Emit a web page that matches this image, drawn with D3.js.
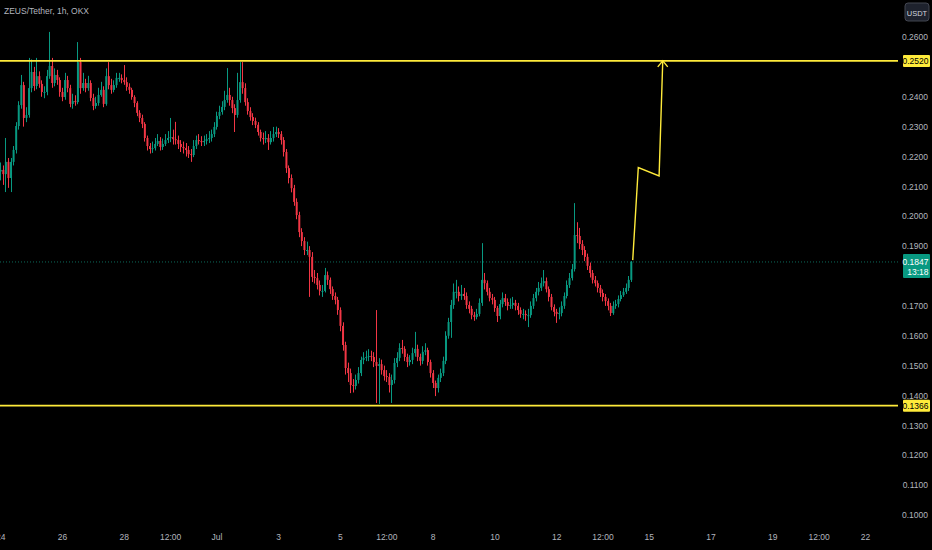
<!DOCTYPE html>
<html><head><meta charset="utf-8">
<script src="https://cdn.jsdelivr.net/npm/d3@7"></script>
<style>
html,body{margin:0;padding:0;background:#000;}
svg{display:block;}
text{font-family:"Liberation Sans Narrow","Liberation Sans",Arial,sans-serif;}
</style></head>
<body>
<script>
// ---------- DATA ----------
const title = "ZEUS/Tether, 1h, OKX";
const startTime = "2024-06-24T00:00:00Z";   // first candle
const candleHours = 2;
const openFirst = 0.2150;
const closes = [
.2155,.2141,.2182,.2128,.2182,.2222,.2302,.2372,.2439,.2329,
.2339,.2429,.2483,.2436,.2469,.2443,.2416,.2416,.2469,.2503,
.2446,.2473,.2456,.2416,.2399,.2456,.2429,.2376,.2386,.2382,
.2516,.2429,.2446,.2429,.2446,.2396,.2369,.2379,.2406,.2423,
.2376,.2469,.2439,.2423,.2439,.2463,.2463,.2456,.2449,.2433,
.2423,.2399,.2379,.2346,.2329,.2309,.2262,.2235,.2225,.2228,
.2242,.2252,.2232,.2242,.2255,.2262,.2265,.2258,.2255,.2242,
.2232,.2228,.2222,.2208,.2205,.2235,.2255,.2252,.2248,.2252,
.2258,.2262,.2275,.2299,.2336,.2349,.2366,.2389,.2406,.2389,
.2362,.2339,.2389,.2449,.2429,.2382,.2352,.2332,.2319,.2306,
.2282,.2262,.2258,.2262,.2248,.2262,.2275,.2282,.2275,.2255,
.2215,.2161,.2128,.2094,.2048,.2004,.1947,.1917,.1887,.1887,
.1864,.1797,.1793,.1770,.1750,.1750,.1803,.1787,.1756,.1733,
.1720,.1686,.1633,.1569,.1492,.1475,.1435,.1432,.1452,.1475,
.1519,.1526,.1529,.1532,.1529,.1512,.1499,.1505,.1485,.1465,
.1462,.1435,.1452,.1509,.1526,.1559,.1556,.1529,.1512,.1519,
.1542,.1556,.1529,.1516,.1546,.1552,.1512,.1475,.1442,.1425,
.1459,.1475,.1516,.1600,.1646,.1703,.1747,.1747,.1733,.1740,
.1733,.1703,.1690,.1669,.1663,.1673,.1710,.1787,.1776,.1747,
.1726,.1720,.1693,.1666,.1706,.1726,.1713,.1700,.1703,.1710,
.1700,.1686,.1673,.1673,.1669,.1669,.1700,.1726,.1747,.1760,
.1776,.1783,.1756,.1730,.1696,.1680,.1673,.1676,.1700,.1733,
.1770,.1793,.1823,.1937,.1934,.1907,.1887,.1864,.1834,.1810,
.1787,.1776,.1760,.1743,.1730,.1716,.1700,.1676,.1700,.1706,
.1723,.1736,.1747,.1760,.1787,.1847];
const highs = [
.2180,.2170,.2262,.2195,.2195,.2235,.2315,.2385,.2473,.2450,
.2365,.2530,.2525,.2500,.2530,.2485,.2455,.2435,.2490,.2617,
.2530,.2495,.2490,.2465,.2430,.2480,.2470,.2440,.2410,.2405,
.2583,.2530,.2480,.2460,.2470,.2455,.2410,.2400,.2430,.2450,
.2435,.2495,.2516,.2460,.2455,.2480,.2480,.2475,.2506,.2465,
.2445,.2430,.2405,.2385,.2355,.2340,.2315,.2270,.2245,.2250,
.2262,.2275,.2265,.2260,.2275,.2285,.2329,.2290,.2316,.2270,
.2255,.2250,.2245,.2235,.2225,.2255,.2270,.2275,.2268,.2270,
.2275,.2285,.2290,.2315,.2350,.2370,.2385,.2420,.2496,.2430,
.2400,.2375,.2480,.2516,.2516,.2445,.2395,.2365,.2345,.2330,
.2315,.2290,.2280,.2285,.2275,.2285,.2299,.2300,.2295,.2285,
.2265,.2225,.2170,.2140,.2105,.2060,.2015,.1960,.1930,.1915,
.1900,.1880,.1820,.1810,.1785,.1770,.1827,.1815,.1795,.1765,
.1745,.1730,.1695,.1645,.1580,.1510,.1490,.1455,.1470,.1495,
.1530,.1545,.1550,.1555,.1550,.1545,.1686,.1525,.1520,.1500,
.1485,.1475,.1470,.1525,.1545,.1575,.1586,.1565,.1540,.1535,
.1560,.1613,.1570,.1540,.1565,.1575,.1560,.1520,.1485,.1450,
.1470,.1490,.1530,.1615,.1660,.1720,.1775,.1787,.1765,.1770,
.1760,.1745,.1715,.1700,.1680,.1690,.1725,.1910,.1810,.1785,
.1760,.1740,.1730,.1700,.1720,.1745,.1740,.1725,.1725,.1730,
.1720,.1710,.1695,.1690,.1685,.1690,.1715,.1740,.1760,.1780,
.1795,.1820,.1795,.1765,.1740,.1705,.1690,.1695,.1715,.1745,
.1785,.1810,.1840,.2044,.1980,.1961,.1920,.1900,.1875,.1845,
.1820,.1800,.1785,.1770,.1755,.1740,.1725,.1710,.1715,.1720,
.1735,.1750,.1760,.1775,.1800,.1850];
const lows = [
.2120,.2105,.2081,.2095,.2081,.2170,.2210,.2290,.2360,.2300,
.2315,.2330,.2415,.2420,.2425,.2430,.2400,.2395,.2405,.2460,
.2430,.2435,.2440,.2400,.2385,.2390,.2415,.2365,.2360,.2370,
.2375,.2410,.2420,.2415,.2420,.2385,.2355,.2360,.2370,.2400,
.2365,.2370,.2425,.2410,.2415,.2430,.2450,.2445,.2440,.2420,
.2410,.2390,.2365,.2335,.2315,.2295,.2250,.2220,.2210,.2212,
.2220,.2235,.2220,.2222,.2235,.2245,.2248,.2240,.2240,.2225,
.2215,.2210,.2200,.2195,.2182,.2198,.2225,.2240,.2235,.2235,
.2240,.2245,.2250,.2265,.2290,.2325,.2340,.2355,.2380,.2370,
.2345,.2282,.2330,.2380,.2410,.2370,.2340,.2320,.2305,.2295,
.2270,.2250,.2240,.2245,.2222,.2240,.2250,.2265,.2262,.2240,
.2200,.2145,.2110,.2080,.2035,.1990,.1930,.1900,.1870,.1870,
.1730,.1780,.1775,.1755,.1735,.1730,.1745,.1770,.1740,.1720,
.1705,.1670,.1615,.1550,.1470,.1445,.1408,.1410,.1420,.1440,
.1465,.1505,.1515,.1515,.1515,.1495,.1375,.1372,.1470,.1450,
.1445,.1410,.1375,.1440,.1495,.1515,.1540,.1515,.1495,.1500,
.1505,.1530,.1515,.1500,.1505,.1535,.1500,.1460,.1425,.1398,
.1410,.1445,.1465,.1505,.1590,.1593,.1690,.1725,.1715,.1720,
.1720,.1690,.1675,.1655,.1650,.1655,.1665,.1700,.1755,.1735,
.1715,.1705,.1680,.1646,.1655,.1695,.1700,.1685,.1690,.1690,
.1685,.1670,.1660,.1655,.1650,.1629,.1660,.1690,.1715,.1735,
.1750,.1765,.1745,.1715,.1685,.1665,.1643,.1655,.1665,.1690,
.1725,.1760,.1785,.1815,.1910,.1890,.1870,.1850,.1820,.1795,
.1775,.1765,.1745,.1730,.1715,.1700,.1685,.1666,.1670,.1690,
.1695,.1715,.1730,.1740,.1750,.1780];

// 0.1800 and 0.2500 sit under the last-price / level badges in the reference
const priceTicks = [0.10,0.11,0.12,0.13,0.14,0.15,0.16,0.17,0.19,0.20,0.21,0.22,0.23,0.24,0.26];
const timeTicks = ["2024-06-24T00:00Z","2024-06-26T00:00Z","2024-06-28T00:00Z","2024-06-29T12:00Z","2024-07-01T00:00Z",
  "2024-07-03T00:00Z","2024-07-05T00:00Z","2024-07-06T12:00Z","2024-07-08T00:00Z","2024-07-10T00:00Z",
  "2024-07-12T00:00Z","2024-07-13T12:00Z","2024-07-15T00:00Z","2024-07-17T00:00Z","2024-07-19T00:00Z",
  "2024-07-20T12:00Z","2024-07-22T00:00Z"];
const timeTickLabels = ["24","26","28","12:00","Jul","3","5","12:00","8","10","12","12:00","15","17","19","12:00","22"];

const levelLines = [0.2520, 0.1366];
const lastPrice = 0.1847;
const countdown = "13:18";
const currency = "USDT";
// projected path drawing (time, price)
const pathTimes = ["2024-07-14T11:30Z","2024-07-14T15:50Z","2024-07-15T08:00Z","2024-07-15T10:50Z"];
const pathPrices = [0.1853, 0.2163, 0.2135, 0.2520];

// ---------- CHART ----------
const W = 932, H = 550, plotRight = 898;
const UP = "#089981", DOWN = "#f23645", YEL = "#ffeb3b", TXT = "#b2b5be";

const x = d3.scaleUtc().domain([new Date("2024-06-26T00:00Z"), new Date("2024-07-22T00:00Z")]).range([62, 865]);
const y = d3.scaleLinear().domain([0.10, 0.26]).range([515, 37]);

const svg = d3.select("body").append("svg").attr("width", W).attr("height", H);
svg.append("rect").attr("width", W).attr("height", H).attr("fill", "#000");

svg.append("defs").append("clipPath").attr("id", "plot")
  .append("rect").attr("x", 0).attr("y", 0).attr("width", plotRight).attr("height", 525);

const t0 = new Date(startTime).getTime();
const candles = closes.map((c, i) => {
  const o = i === 0 ? openFirst : closes[i - 1];
  return { t: new Date(t0 + i * candleHours * 3600e3), o, c,
           h: Math.max(highs[i], o, c), l: Math.min(lows[i], o, c) };
});

const g = svg.append("g").attr("clip-path", "url(#plot)");

// last price dotted line
g.append("line").attr("x1", 0).attr("x2", plotRight)
  .attr("y1", y(lastPrice)).attr("y2", y(lastPrice))
  .attr("stroke", "#0b6b5b").attr("stroke-width", 1).attr("stroke-dasharray", "1,2");

const bw = 2;
const cg = g.append("g");
cg.selectAll("line.wick").data(candles).join("line")
  .attr("class", "wick")
  .attr("x1", d => Math.round(x(d.t)) + 0.5).attr("x2", d => Math.round(x(d.t)) + 0.5)
  .attr("y1", d => y(d.h)).attr("y2", d => y(d.l))
  .attr("stroke", d => d.c >= d.o ? UP : DOWN).attr("stroke-width", 1);
cg.selectAll("rect.body").data(candles).join("rect")
  .attr("class", "body")
  .attr("x", d => x(d.t) - bw / 2 + 0.5).attr("width", bw)
  .attr("y", d => y(Math.max(d.o, d.c)))
  .attr("height", d => Math.max(1, Math.abs(y(d.o) - y(d.c))))
  .attr("fill", d => d.c >= d.o ? UP : DOWN);

// horizontal levels
g.selectAll("line.level").data(levelLines).join("line")
  .attr("class", "level").attr("x1", 0).attr("x2", plotRight)
  .attr("y1", d => y(d)).attr("y2", d => y(d))
  .attr("stroke", YEL).attr("stroke-width", 1.6);

// projection path with arrowhead
const pts = pathTimes.map((t, i) => [x(new Date(t)), y(pathPrices[i])]);
g.append("path").attr("d", d3.line()(pts)).attr("fill", "none")
  .attr("stroke", YEL).attr("stroke-width", 1.4);
const tip = pts[pts.length - 1];
g.append("path").attr("d", d3.line()([[tip[0] - 5, tip[1] + 6], tip, [tip[0] + 5, tip[1] + 6]]))
  .attr("fill", "none").attr("stroke", YEL).attr("stroke-width", 1.4);

// price axis
const yAxis = svg.append("g").attr("transform", "translate(928,0)")
  .call(d3.axisLeft(y).tickValues(priceTicks).tickFormat(d3.format(".4f")).tickSize(0).tickPadding(0));
yAxis.select(".domain").remove();
yAxis.selectAll("text").attr("fill", TXT).attr("font-size", 8.5).attr("text-anchor", "end");

// time axis
const xAxis = svg.append("g").attr("transform", "translate(0,534)")
  .call(d3.axisBottom(x).tickValues(timeTicks.map(s => new Date(s)))
    .tickFormat((d, i) => timeTickLabels[i]).tickSize(0).tickPadding(0));
xAxis.select(".domain").remove();
xAxis.selectAll("text").attr("fill", TXT).attr("font-size", 8.5);

// level labels
levelLines.forEach(v => {
  const lg = svg.append("g").attr("transform", `translate(903,${y(v)})`);
  lg.append("rect").attr("x", 0).attr("y", -6).attr("width", 27).attr("height", 12).attr("rx", 1).attr("fill", YEL);
  lg.append("text").attr("x", 25.5).attr("y", 3).attr("text-anchor", "end")
    .attr("font-size", 8.5).attr("fill", "#000").text(d3.format(".4f")(v));
});

// last price label
const lp = svg.append("g").attr("transform", `translate(903,${y(lastPrice)})`);
lp.append("rect").attr("x", 0).attr("y", -8).attr("width", 27).attr("height", 24).attr("rx", 1).attr("fill", UP);
lp.append("text").attr("x", 25.5).attr("y", 3).attr("text-anchor", "end").attr("font-size", 8.5).attr("fill", "#fff").text(d3.format(".4f")(lastPrice));
lp.append("text").attr("x", 25.5).attr("y", 13).attr("text-anchor", "end").attr("font-size", 8.5).attr("fill", "#fff").text(countdown);

// currency button
const cb = svg.append("g").attr("transform", "translate(905,3)");
cb.append("rect").attr("width", 24).attr("height", 18).attr("rx", 3).attr("fill", "#1e222d").attr("stroke", "#434651");
cb.append("text").attr("x", 12).attr("y", 12.5).attr("text-anchor", "middle").attr("font-size", 7.5).attr("fill", "#d1d4dc").text(currency);

// title
svg.append("text").attr("x", 4).attr("y", 14).attr("font-size", 8.5).attr("fill", TXT).text(title);
</script>
</body></html>
